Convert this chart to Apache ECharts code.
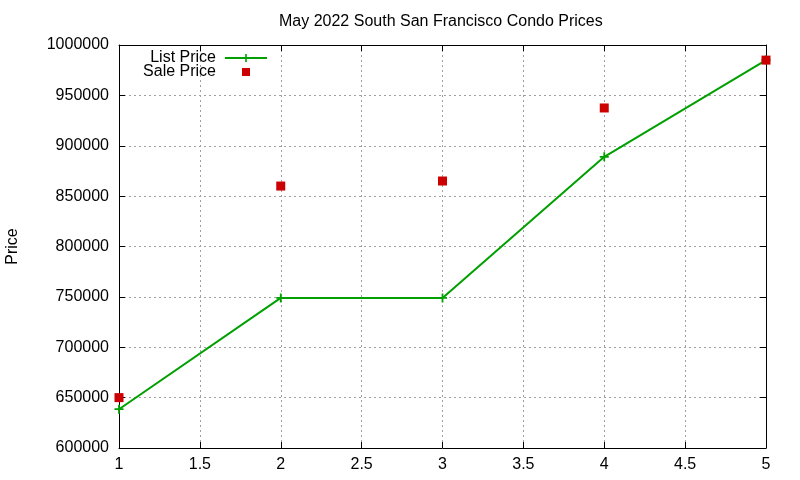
<!DOCTYPE html>
<html>
<head>
<meta charset="utf-8">
<script src="https://cdn.jsdelivr.net/npm/echarts@6/dist/echarts.min.js"></script>
<style>
html, body { margin: 0; padding: 0; background: #fff; }
#main { width: 800px; height: 480px; }
</style>
</head>
<body>
<div id="main"></div>
<script>
var xValues = [1, 2, 3, 4, 5];
var listPrice = [638500, 749000, 749000, 889000, 985000];
var salePrice = [650000, 860000, 865000, 937500, 985000];

var font = 'Liberation Sans, Arial, sans-serif';
var plus = 'path://M4,0h2v4h4v2h-4v4h-2v-4h-4v-2h4z';

function pairs(ys) {
    return xValues.map(function (x, i) { return [x, ys[i]]; });
}

var myChart = echarts.init(document.getElementById('main'), null, { renderer: 'canvas' });

var tickStyle = { show: true, inside: true, length: 6, lineStyle: { color: '#000' } };
var gridLine = { show: true, lineStyle: { color: '#a0a0a0', type: [2, 3], width: 1 } };

option = {
    animation: false,
    backgroundColor: '#fff',
    title: {
        text: 'May 2022 South San Francisco Condo Prices',
        left: 274,
        top: 9,
        textStyle: { fontFamily: font, fontSize: 16, fontWeight: 'normal', color: '#000' }
    },
    grid: { left: 119, right: 34, top: 45, bottom: 32, outerBoundsMode: 'none', containLabel: false },
    legend: [{
        data: ['List Price'],
        right: 527,
        top: 45,
        align: 'right',
        itemWidth: 42,
        itemHeight: 10,
        textStyle: { fontFamily: font, fontSize: 16, color: '#000', padding: [0, 4, 0, 0] }
    }, {
        data: [{ name: 'Sale Price', icon: 'rect' }],
        right: 545,
        top: 59,
        align: 'right',
        itemWidth: 8,
        itemHeight: 8,
        textStyle: { fontFamily: font, fontSize: 16, color: '#000', padding: [0, 21, 0, 0] }
    }],
    xAxis: [{
        type: 'value',
        min: 1,
        max: 5,
        interval: 0.5,
        axisLine: { show: true, lineStyle: { color: '#000', width: 1 } },
        axisTick: tickStyle,
        axisLabel: { color: '#000', fontFamily: font, fontSize: 16, margin: 9 },
        splitLine: gridLine
    }, {
        type: 'value',
        position: 'top',
        min: 1,
        max: 5,
        interval: 0.5,
        axisLine: { show: true, lineStyle: { color: '#000', width: 1 } },
        axisTick: tickStyle,
        axisLabel: { show: false },
        splitLine: { show: false }
    }],
    yAxis: [{
        type: 'value',
        min: 600000,
        max: 1000000,
        interval: 50000,
        name: 'Price',
        nameLocation: 'middle',
        nameGap: 98,
        nameRotate: 90,
        nameTextStyle: { fontFamily: font, fontSize: 16, color: '#000' },
        axisLine: { show: true, lineStyle: { color: '#000', width: 1 } },
        axisTick: tickStyle,
        axisLabel: {
            color: '#000', fontFamily: font, fontSize: 16, margin: 10,
            formatter: function (v) { return String(v); }
        },
        splitLine: gridLine
    }, {
        type: 'value',
        position: 'right',
        min: 600000,
        max: 1000000,
        interval: 50000,
        axisLine: { show: true, lineStyle: { color: '#000', width: 1 } },
        axisTick: tickStyle,
        axisLabel: { show: false },
        splitLine: { show: false }
    }],
    series: [{
        name: 'List Price',
        type: 'line',
        data: pairs(listPrice),
        symbol: plus,
        symbolSize: 9,
        showAllSymbol: true,
        color: '#00a000',
        lineStyle: { color: '#00a000', width: 2 },
        itemStyle: { color: '#00a000' },
        z: 3
    }, {
        name: 'Sale Price',
        type: 'scatter',
        data: pairs(salePrice),
        symbol: 'rect',
        symbolSize: 9,
        color: '#cc0000',
        itemStyle: { color: '#cc0000', opacity: 1 },
        z: 4
    }]
};

myChart.setOption(option);
</script>
</body>
</html>
